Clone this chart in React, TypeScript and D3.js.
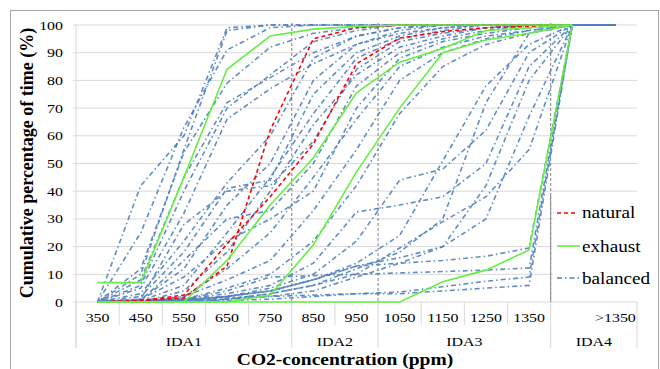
import React from 'react';
import * as d3 from 'd3';

const categories = ['350', '450', '550', '650', '750', '850', '950', '1050', '1150', '1250', '1350', '', '>1350'];
const groupLabels = ['IDA1', 'IDA2', 'IDA3', 'IDA4'];
const groupStarts = [0, 5, 7, 11];
const groupEnds = [5, 7, 11, 13];
const yTicks = [0, 10, 20, 30, 40, 50, 60, 70, 80, 90, 100];

const natural1 = [0, 0.5, 1.5, 13, 62, 95, 99, 100, 100, 100, 100, 100];
const natural2 = [0, 0.5, 2.5, 21, 38, 57, 86, 95.3, 97.6, 99, 99.5, 100];

const exhaust1 = [7, 7, 45, 84, 96, 98.5, 99.5, 100, 100, 100, 100, 100];
const exhaust2 = [0, 0, 0, 15, 35, 52, 75.5, 86.6, 91.5, 98, 99, 100];
const exhaust3 = [0, 0, 0, 0, 2.5, 20.6, 47, 70, 90, 94.6, 97, 100];
const exhaust4 = [0, 0, 0, 0, 0, 0, 0, 0, 7.3, 11.5, 18.8, 100];

const balanced01 = [0, 42, 60, 99, 100, 100, 100, 100, 100, 100, 100, 100, 100];
const balanced02 = [0, 25, 63, 91, 99, 100, 100, 100, 100, 100, 100, 100, 100];
const balanced03 = [0, 12, 54, 79, 92, 97, 99, 100, 100, 100, 100, 100, 100];
const balanced04 = [0, 8, 45, 72, 81, 90, 96, 99, 100, 100, 100, 100, 100];
const balanced05 = [0, 5, 32, 66, 77, 86, 93, 97, 99, 100, 100, 100, 100];
const balanced06 = [0, 10, 55, 98, 100, 100, 100, 100, 100, 100, 100, 100, 100];
const balanced07 = [0, 6, 40, 70, 82, 94, 98, 100, 100, 100, 100, 100, 100];
const balanced08 = [0, 3, 22, 43, 60, 88, 96, 99, 100, 100, 100, 100, 100];
const balanced09 = [0, 2, 18, 41, 44, 75, 90, 96, 99, 100, 100, 100, 100];
const balanced10 = [0, 1, 12, 35, 50, 80, 93, 98, 100, 100, 100, 100, 100];
const balanced11 = [0, 1, 28, 40, 42, 58, 84, 94, 97, 99, 100, 100, 100];
const balanced12 = [0, 0.5, 15, 30, 33, 50, 78, 90, 95, 98, 100, 100, 100];
const balanced13 = [0, 0.5, 6, 25, 45, 68, 88, 95, 98, 100, 100, 100, 100];
const balanced14 = [0, 0, 4, 18, 40, 64, 82, 92, 96, 99, 100, 100, 100];
const balanced15 = [0, 1, 9, 22, 30, 40, 70, 88, 94, 97, 99, 100, 100];
const balanced16 = [0, 0, 2, 12, 25, 45, 66, 85, 92, 96, 98, 100, 100];
const balanced17 = [0, 0, 2, 8, 15, 33, 55, 80, 90, 95, 98, 100, 100];
const balanced18 = [0, 0, 1, 5, 10, 22, 42, 68, 85, 93, 97, 100, 100];
const balanced19 = [0, 0, 1, 3, 6, 14, 32.5, 35, 38, 50, 85, 100, 100];
const balanced20 = [0, 0, 1, 2, 5, 10, 22, 44, 48, 62, 90, 100, 100];
const balanced21 = [0, 0, 0.5, 2, 4, 8, 14, 24, 51, 78, 93, 100, 100];
const balanced22 = [0, 0, 0, 1, 3, 6, 12, 18, 30, 72, 97, 100, 100];
const balanced23 = [0, 0, 0, 1, 2, 4, 9, 14, 20, 30, 67, 100, 100];
const balanced24 = [0, 0, 0.5, 2, 4, 8, 13, 16, 20, 42, 80, 100, 100];
const balanced25 = [0, 0, 0.5, 1, 3, 6, 10, 19.5, 29, 38, 55, 100, 100];
const balanced26 = [0, 0, 0.5, 2, 4, 8, 13, 14, 15, 16.5, 19.5, 100, 100];
const balanced27 = [0, 0, 1, 4, 9, 9.5, 10, 10.5, 11, 11.5, 12.3, 100, 100];
const balanced28 = [0, 0, 0, 0.5, 1, 2, 3, 3.6, 5.5, 7.5, 9, 100, 100];
const balanced29 = [0, 0.5, 1, 1.5, 2, 2.5, 3, 3, 4, 5, 6, 100, 100];

const naturalSeries = [natural1, natural2];
const exhaustSeries = [exhaust1, exhaust2, exhaust3, exhaust4];
const balancedSeries = [
  balanced01, balanced02, balanced03, balanced04, balanced05, balanced06, balanced07, balanced08,
  balanced09, balanced10, balanced11, balanced12, balanced13, balanced14, balanced15, balanced16,
  balanced17, balanced18, balanced19, balanced20, balanced21, balanced22, balanced23, balanced24,
  balanced25, balanced26, balanced27, balanced28, balanced29,
];

const SERIF = 'Liberation Serif, Times New Roman, serif';
const BLUE = '#4f81bd';
const RED = '#ff0000';
const GREEN = '#66ee44';
const DASHDOT = '5,3,1.5,3';

function T(props: { x: number; y: number; anchor?: string; size: number; weight?: string; sx?: number; rotate?: number; children: any }) {
  const { x, y, anchor = 'middle', size, weight = 'normal', sx = 1.18, rotate = 0, children } = props;
  return (
    <text
      transform={`translate(${x},${y}) scale(${sx},1)${rotate ? ` rotate(${rotate})` : ''}`}
      textAnchor={anchor}
      style={{ fontFamily: SERIF, fontSize: size, fontWeight: weight as any }}
      fill="#000"
    >
      {children}
    </text>
  );
}

export default function App() {
  const W = 660;
  const H = 369;
  const left = 76;
  const right = 637;
  const top = 25;
  const bottom = 302;

  const x = d3.scaleBand<number>().domain(d3.range(categories.length)).range([left, right]).padding(0);
  const bw = x.bandwidth();
  const cx = (i: number) => (x(i) as number) + bw / 2;
  const y = d3.scaleLinear().domain([0, 100]).range([bottom, top]);

  const line = d3
    .line<number>()
    .x((_, i) => cx(i))
    .y((d) => y(d));

  const boundaries = d3.range(categories.length + 1).map((i) => left + i * bw);
  const groupEdgeIdx = [0, 5, 7, 11, 13];
  const innerSepIdx = d3.range(1, 11).filter((i) => !groupEdgeIdx.includes(i));

  return (
    <svg width={W} height={H} style={{ position: 'absolute', left: 0, top: 0, background: '#fff' }}>
      <rect x={0} y={0} width={W} height={H} fill="#fff" />
      <rect x={10.5} y={10.5} width={648} height={420} fill="none" stroke="#a6a6a6" strokeWidth={1} />

      {yTicks.map((t) => (
        <line key={'g' + t} x1={left - 3} x2={right} y1={y(t)} y2={y(t)} stroke="#d9d9d9" strokeWidth={1} />
      ))}
      <line x1={left} x2={left} y1={top} y2={348} stroke="#d9d9d9" strokeWidth={1} />

      {innerSepIdx.map((i) => (
        <line key={'s' + i} x1={boundaries[i]} x2={boundaries[i]} y1={bottom} y2={325} stroke="#d9d9d9" strokeWidth={1} />
      ))}
      {groupEdgeIdx.map((i) => (
        <line key={'ge' + i} x1={boundaries[i]} x2={boundaries[i]} y1={bottom} y2={348} stroke="#d9d9d9" strokeWidth={1} />
      ))}

      {[5, 7, 11].map((i) => (
        <line key={'d' + i} x1={boundaries[i]} x2={boundaries[i]} y1={top - 2} y2={bottom} stroke="#7f7f7f" strokeWidth={1} strokeDasharray="3,2" />
      ))}

      {balancedSeries.map((s, k) => (
        <path key={'b' + k} d={line(s) as string} fill="none" stroke={BLUE} strokeWidth={1.6} strokeDasharray={DASHDOT} strokeDashoffset={k * 1.7} opacity={0.9} />
      ))}
      {naturalSeries.map((s, k) => (
        <path key={'n' + k} d={line(s) as string} fill="none" stroke={RED} strokeWidth={1.6} strokeDasharray="4,3" />
      ))}
      {exhaustSeries.map((s, k) => (
        <path key={'e' + k} d={line(s) as string} fill="none" stroke={GREEN} strokeWidth={1.6} />
      ))}

      {yTicks.map((t) => (
        <T key={'yl' + t} x={63} y={y(t) + 4.5} anchor="end" size={13.5}>
          {String(t)}
        </T>
      ))}

      {categories.map((c, i) => (
        <T key={'c' + i} x={cx(i)} y={322} size={13.5}>
          {c}
        </T>
      ))}
      {groupLabels.map((g, k) => (
        <T key={'gl' + k} x={(boundaries[groupStarts[k]] + boundaries[groupEnds[k]]) / 2} y={346} size={13.5}>
          {g}
        </T>
      ))}

      <T x={345} y={365} size={17} weight="bold" sx={1.15}>
        CO2-concentration (ppm)
      </T>
      <T x={33} y={163} size={18} weight="bold" sx={1.1} rotate={-90}>
        Cumulative percentage of time (%)
      </T>

      <rect x={553} y={196} width={105} height={100} fill="#fff" />
      <line x1={boundaries[11]} x2={boundaries[11]} y1={196} y2={bottom} stroke="#7f7f7f" strokeWidth={1} strokeDasharray="3,2" />
      <line x1={557} x2={578} y1={213} y2={213} stroke={RED} strokeWidth={1.6} strokeDasharray="4,3" />
      <T x={582} y={218} anchor="start" size={16} sx={1.2}>natural</T>
      <line x1={557} x2={580} y1={246} y2={246} stroke={GREEN} strokeWidth={1.6} />
      <T x={582} y={251.5} anchor="start" size={16} sx={1.2}>exhaust</T>
      <line x1={557} x2={580} y1={278} y2={278} stroke={BLUE} strokeWidth={1.6} strokeDasharray={DASHDOT} />
      <T x={582} y={284} anchor="start" size={16} sx={1.2}>balanced</T>
    </svg>
  );
}
